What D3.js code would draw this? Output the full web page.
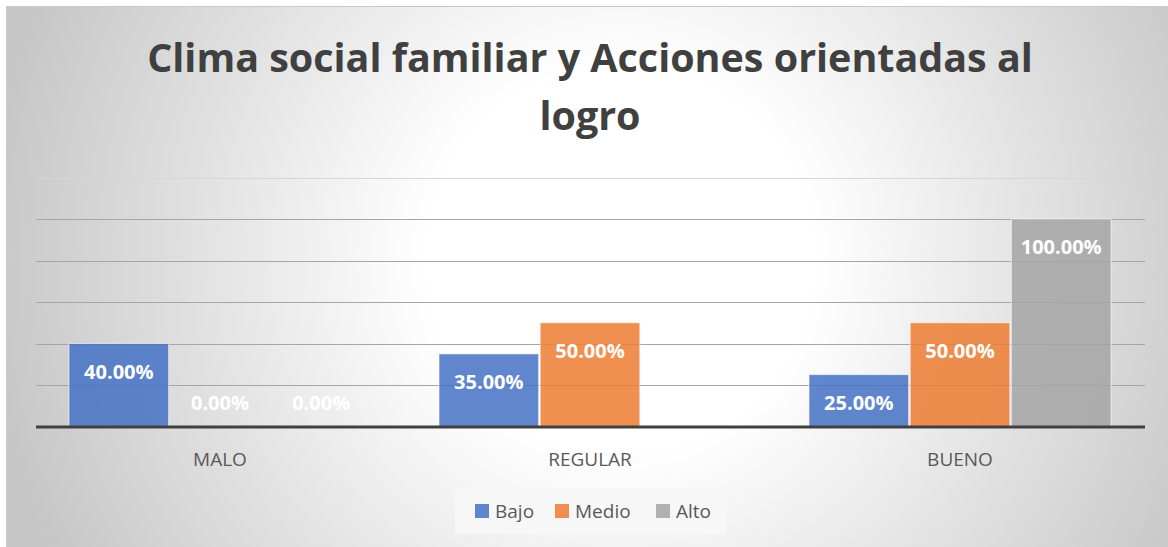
<!DOCTYPE html>
<html>
<head>
<meta charset="utf-8">
<script src="https://cdn.jsdelivr.net/npm/d3@7"></script>
<style>
  body { margin: 0; background: #fff; }
  svg { display: block; }
</style>
</head>
<body>
<div id="chart"></div>
<script>
// Chart data (null = no value in the source sheet)
const categories = ["MALO", "REGULAR", "BUENO"];
const seriesNames = ["Bajo", "Medio", "Alto"];
const bajoValues = [0.40, 0.35, 0.25];
const medioValues = [0.00, 0.50, 0.50];
const altoValues = [0.00, null, 1.00];
const yTicks = [0, 0.2, 0.4, 0.6, 0.8, 1.0, 1.2];
const titleLines = ["Clima social familiar y Acciones orientadas al", "logro"];

const colors = { Bajo: "#4472c4", Medio: "#ed7d31", Alto: "#a5a5a5" };

const width = 1168, height = 547;
const margin = { left: 35, right: 23, top: 177.5, bottom: 120.5 };

const svg = d3.select("#chart").append("svg")
    .attr("width", width)
    .attr("height", height);

// Background gradient
const defs = svg.append("defs");
const grad = defs.append("radialGradient")
    .attr("id", "bg")
    .attr("gradientUnits", "userSpaceOnUse")
    .attr("cx", 620).attr("cy", 260).attr("r", 640);
grad.append("stop").attr("offset", "0%").attr("stop-color", "#ffffff");
grad.append("stop").attr("offset", "30%").attr("stop-color", "#ffffff");
grad.append("stop").attr("offset", "100%").attr("stop-color", "#c6c6c6");

svg.append("rect")
    .attr("x", 6.5).attr("y", 6.5)
    .attr("width", width).attr("height", height)
    .attr("fill", "url(#bg)")
    .attr("stroke", "#c9c9c9");

// Scales
const x0 = d3.scaleBand()
    .domain(categories)
    .range([margin.left, width - margin.right]);

const x1 = d3.scaleBand()
    .domain(seriesNames)
    .range([34, 336])
    .paddingInner(0.015);

const y = d3.scaleLinear()
    .domain([0, 1.2])
    .range([height - margin.bottom, margin.top]);

// Gridlines
svg.append("g")
    .selectAll("line")
    .data(yTicks.slice(1))
    .enter().append("line")
    .attr("x1", margin.left + 1)
    .attr("x2", width - margin.right)
    .attr("y1", d => Math.round(y(d)) + 0.5)
    .attr("y2", d => Math.round(y(d)) + 0.5)
    .attr("stroke", d => d === 1.2 ? "#d6d6d6" : "#a6a6a6")
    .attr("stroke-width", 1);

// Bars
const rows = categories.map((c, i) => ({
    category: c,
    values: [
        { series: "Bajo", value: bajoValues[i] },
        { series: "Medio", value: medioValues[i] },
        { series: "Alto", value: altoValues[i] }
    ].filter(v => v.value !== null)
}));

const groups = svg.append("g")
    .selectAll("g")
    .data(rows)
    .enter().append("g")
    .attr("transform", d => `translate(${x0(d.category)},0)`);

groups.selectAll("rect")
    .data(d => d.values.filter(v => v.value > 0))
    .enter().append("rect")
    .attr("x", d => x1(d.series))
    .attr("y", d => y(d.value))
    .attr("width", x1.bandwidth())
    .attr("height", d => y(0) - y(d.value))
    .attr("fill", d => colors[d.series])
    .attr("fill-opacity", 0.85)
    .attr("stroke", "rgba(255,255,255,0.6)")
    .attr("stroke-width", 1);

// Value labels
groups.selectAll("text")
    .data(d => d.values)
    .enter().append("text")
    .attr("x", d => x1(d.series) + x1.bandwidth() / 2)
    .attr("y", d => d.value > 0 ? y(d.value) + 35 : y(0) - 17)
    .attr("text-anchor", "middle")
    .attr("fill", "#ffffff")
    .style("font-family", "'Open Sans', sans-serif")
    .style("font-weight", "bold")
    .style("font-size", "20px")
    .text(d => (d.value * 100).toFixed(2) + "%");

// Baseline
svg.append("line")
    .attr("x1", margin.left + 1)
    .attr("x2", width - margin.right)
    .attr("y1", y(0) + 0.5)
    .attr("y2", y(0) + 0.5)
    .attr("stroke", "#404040")
    .attr("stroke-width", 3);

// Category axis labels
svg.append("g")
    .selectAll("text")
    .data(categories)
    .enter().append("text")
    .attr("x", d => x0(d) + x0.bandwidth() / 2)
    .attr("y", 466)
    .attr("text-anchor", "middle")
    .attr("fill", "#595959")
    .style("font-family", "'Open Sans', sans-serif")
    .style("font-size", "19px")
    .text(d => d);

// Title
const title = svg.append("g");
title.selectAll("text")
    .data(titleLines)
    .enter().append("text")
    .attr("x", 590)
    .attr("y", (d, i) => 72 + i * 58)
    .attr("text-anchor", "middle")
    .attr("fill", "#404040")
    .style("font-family", "'Open Sans', sans-serif")
    .style("font-weight", "bold")
    .style("font-size", "42px")
    .text(d => d);

// fit first title line to the reference width
const line1 = title.select("text").node();
const w1 = line1.getComputedTextLength();
const fs = 42 * 886 / w1;
title.selectAll("text").style("font-size", fs + "px");

// Legend
const legend = svg.append("g");
legend.append("rect")
    .attr("x", 455).attr("y", 489)
    .attr("width", 271).attr("height", 45)
    .attr("fill", "#f7f7f7");

const legendX = [475, 555, 656];
seriesNames.forEach((s, i) => {
    legend.append("rect")
        .attr("x", legendX[i]).attr("y", 504)
        .attr("width", 14).attr("height", 14)
        .attr("fill", colors[s])
        .attr("fill-opacity", 0.85);
    legend.append("text")
        .attr("x", legendX[i] + 20)
        .attr("y", 518)
        .attr("fill", "#595959")
        .style("font-family", "'Open Sans', sans-serif")
        .style("font-size", "19px")
        .text(s);
});
</script>
</body>
</html>
